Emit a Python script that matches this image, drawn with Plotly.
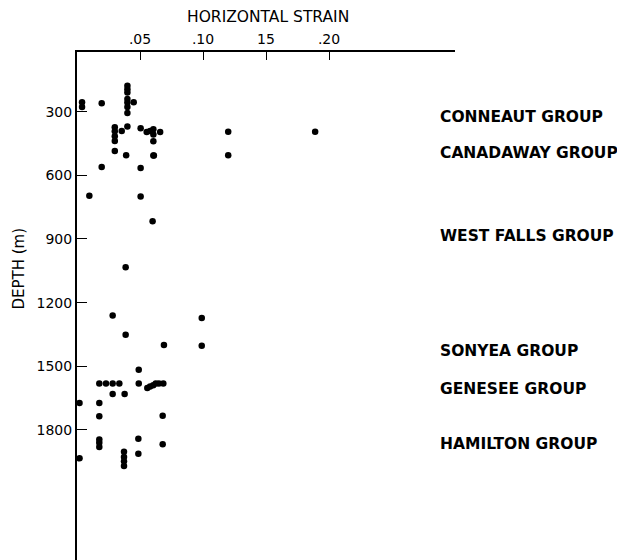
import plotly.graph_objects as go

# Horizontal strain (x) and depth in metres (y) of each measurement
strain = [
    0.004, 0.004, 0.0196,
    0.040, 0.040, 0.040, 0.040, 0.040, 0.040, 0.040,
    0.045, 0.040,
    0.030, 0.030, 0.030, 0.030, 0.0355, 0.030, 0.039,
    0.0505, 0.0553, 0.058, 0.0606, 0.0606, 0.066, 0.0606, 0.0606, 0.061,
    0.0196, 0.0505, 0.0098, 0.0505, 0.060,
    0.120, 0.120, 0.189,
    0.0386, 0.0283, 0.0386, 0.099, 0.099, 0.069, 0.049,
    0.0177, 0.023, 0.0283, 0.0336, 0.049,
    0.0558, 0.058, 0.0605, 0.0625, 0.065, 0.0685,
    0.0283, 0.0378,
    0.002, 0.0177, 0.0177, 0.068,
    0.0177, 0.0177, 0.0177, 0.0487, 0.068, 0.0487, 0.002,
    0.0373, 0.0373, 0.0373, 0.0373,
]
depth = [
    256, 278, 261,
    178, 195, 210, 241, 257, 278, 306,
    256, 370,
    374, 393, 416, 438, 391, 485, 506,
    378, 396, 391, 383, 408, 396, 440, 507, 507,
    561, 566, 696, 700, 817,
    395, 506, 395,
    1033, 1261, 1352, 1272, 1403, 1400, 1517,
    1581, 1581, 1581, 1581, 1581,
    1603, 1595, 1590, 1581, 1581, 1581,
    1631, 1631,
    1673, 1673, 1736, 1733,
    1845, 1861, 1880, 1842, 1867, 1912, 1934,
    1903, 1928, 1948, 1970,
]

x_tickvals = [0.05, 0.10, 0.15, 0.20]
x_ticktext = [".05", ".10", "15", ".20"]
y_tickvals = [300, 600, 900, 1200, 1500, 1800]
y_ticktext = ["300", "600", "900", "1200", "1500", "1800"]

group_names = ["CONNEAUT GROUP", "CANADAWAY GROUP", "WEST FALLS GROUP",
               "SONYEA GROUP", "GENESEE GROUP", "HAMILTON GROUP"]
group_depths = [323, 494, 886, 1429, 1608, 1867]

fig = go.Figure()
fig.add_trace(go.Scatter(
    x=strain, y=depth, mode="markers",
    marker=dict(color="black", size=6.5),
    hoverinfo="x+y", showlegend=False,
))

tickfont = dict(family="DejaVu Sans", size=14, color="black")
fig.update_xaxes(
    side="top", range=[0, 0.3], tickvals=x_tickvals, ticktext=x_ticktext,
    ticks="inside", ticklen=8, tickcolor="black", tickwidth=1,
    showline=True, linecolor="black", linewidth=2,
    showgrid=False, zeroline=False, tickfont=tickfont,
)
fig.update_yaxes(
    range=[2413, 19], tickvals=y_tickvals, ticktext=y_ticktext,
    ticks="inside", ticklen=10, tickcolor="black", tickwidth=1,
    showline=True, linecolor="black", linewidth=2,
    showgrid=False, zeroline=False, tickfont=tickfont,
)

annotations = []
for name, d in zip(group_names, group_depths):
    annotations.append(dict(
        text=name, xref="paper", x=0.955, xanchor="left",
        yref="y", y=d, yanchor="middle", showarrow=False,
        font=dict(family="DejaVu Sans", size=15.5, weight="bold", color="black"),
    ))
annotations.append(dict(
    text="HORIZONTAL STRAIN", xref="paper", x=0.505, xanchor="center",
    yref="paper", y=1.0689, yanchor="middle", showarrow=False,
    font=dict(family="DejaVu Sans", size=15.5, color="black"),
))
annotations.append(dict(
    text="DEPTH (m)", xref="paper", x=-0.153, xanchor="center",
    yref="paper", y=0.574, yanchor="middle", showarrow=False, textangle=-90,
    font=dict(family="DejaVu Sans", size=15, color="black"),
))

# the page adds an 8px body margin, so the figure is 617x552
fig.update_layout(
    width=617, height=552,
    margin=dict(l=69, r=170, t=44, b=0),
    paper_bgcolor="white", plot_bgcolor="white",
    annotations=annotations,
)

fig.write_html("out.html")
